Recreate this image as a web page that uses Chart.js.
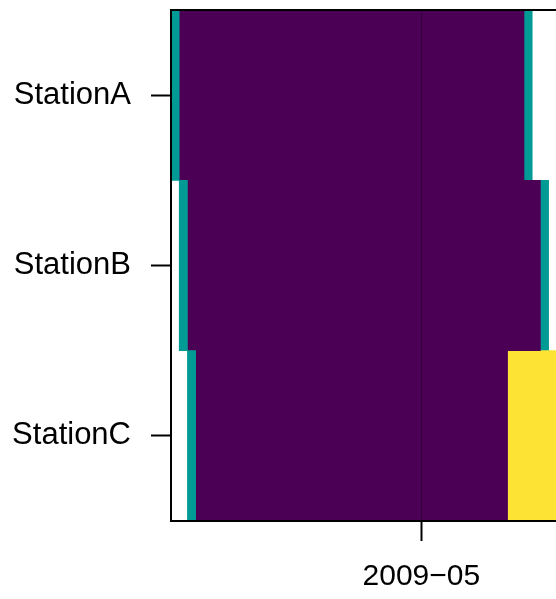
<!DOCTYPE html>
<html>
<head>
<meta charset="utf-8">
<script src="https://cdn.jsdelivr.net/npm/chart.js@4/dist/chart.umd.min.js"></script>
<style>
  html, body { margin: 0; padding: 0; background: #ffffff; overflow: hidden; }
  #wrap { width: 556px; height: 599px; }
</style>
</head>
<body>
<div id="wrap"><canvas id="c" width="556" height="599"></canvas></div>
<script>
// Stations shown as rows, one cell per day starting on the first day below.
const stations = ['StationA', 'StationB', 'StationC'];
const firstDay = '2009-04-01';

// Daily status level per station (null = no record that day).
const stationA = [
  2, 1, 1, 1, 1, 1, 1, 1, 1, 1,
  1, 1, 1, 1, 1, 1, 1, 1, 1, 1,
  1, 1, 1, 1, 1, 1, 1, 1, 1, 1,
  1, 1, 1, 1, 1, 1, 1, 1, 1, 1,
  1, 1, 1, 2, null, null, null
];
const stationB = [
  null, 2, 1, 1, 1, 1, 1, 1, 1, 1,
  1, 1, 1, 1, 1, 1, 1, 1, 1, 1,
  1, 1, 1, 1, 1, 1, 1, 1, 1, 1,
  1, 1, 1, 1, 1, 1, 1, 1, 1, 1,
  1, 1, 1, 1, 1, 2, null
];
const stationC = [
  null, null, 2, 1, 1, 1, 1, 1, 1, 1,
  1, 1, 1, 1, 1, 1, 1, 1, 1, 1,
  1, 1, 1, 1, 1, 1, 1, 1, 1, 1,
  1, 1, 1, 1, 1, 1, 1, 1, 1, 1,
  1, 3, 3, 3, 3, 3, 3
];

// Colour for each status level (viridis, 3 steps).
const levelColors = { 1: '#4B0055', 2: '#009B95', 3: '#FDE333' };

// Month tick on the time axis.
const tickDates = ['2009-05-01'];
const tickLabels = ['2009\u221205'];

const DAY = 86400000;
const t0 = Date.parse(firstDay + 'T00:00:00Z');
const dayIndex = d => Math.round((Date.parse(d + 'T00:00:00Z') - t0) / DAY);
const tickDays = tickDates.map(dayIndex);

// Merge consecutive days with the same level into runs.
function toRuns(values) {
  const runs = [];
  values.forEach((v, i) => {
    if (v === null) return;
    const last = runs[runs.length - 1];
    if (last && last.level === v && last.end === i - 1) last.end = i;
    else runs.push({ start: i, end: i, level: v });
  });
  return runs;
}

const rowsRuns = [stationA, stationB, stationC].map(toRuns);
const nRuns = Math.max(...rowsRuns.map(r => r.length));
const datasets = [];
for (let k = 0; k < nRuns; k++) {
  datasets.push({
    data: rowsRuns.map(r => r[k] ? [r[k].start - 0.5, r[k].end + 0.5] : null),
    backgroundColor: rowsRuns.map(r => r[k] ? levelColors[r[k].level] : 'rgba(0,0,0,0)'),
    borderWidth: 0,
    grouped: false,
    categoryPercentage: 1,
    barPercentage: 1
  });
}

// Box on the left, top and bottom of the plotting region.
const framePlugin = {
  id: 'frame',
  afterDraw(chart) {
    const { ctx, chartArea: a } = chart;
    ctx.save();
    ctx.strokeStyle = '#000';
    ctx.lineWidth = 2;
    ctx.beginPath();
    ctx.moveTo(a.right + 2, a.top);
    ctx.lineTo(a.left, a.top);
    ctx.lineTo(a.left, a.bottom);
    ctx.lineTo(a.right + 2, a.bottom);
    ctx.stroke();
    ctx.restore();
  }
};

const family = '"Liberation Sans", Arial, Helvetica, sans-serif';

const noPad = s => {
  s.paddingTop = 0; s.paddingBottom = 0; s.paddingLeft = 0; s.paddingRight = 0;
};

new Chart(document.getElementById('c'), {
  type: 'bar',
  data: { labels: stations, datasets },
  options: {
    indexAxis: 'y',
    responsive: false,
    devicePixelRatio: 1,
    animation: false,
    layout: { padding: { top: 10, right: 0, left: 0, bottom: 0 } },
    plugins: { legend: { display: false }, tooltip: { enabled: false } },
    scales: {
      x: {
        type: 'linear',
        min: -0.5,
        max: 46.4,
        afterBuildTicks: s => { s.ticks = tickDays.map(v => ({ value: v })); },
        afterFit: s => { s.height = 78; noPad(s); },
        ticks: {
          autoSkip: false,
          maxRotation: 0,
          padding: 18,
          color: '#000',
          font: { family, size: 30 },
          callback: v => tickLabels[tickDays.indexOf(v)] ?? ''
        },
        grid: {
          z: 1,
          drawOnChartArea: true,
          color: 'rgba(0,0,0,0.3)',
          lineWidth: 1,
          tickColor: '#000',
          tickWidth: 2,
          tickLength: 20
        },
        border: { display: false }
      },
      y: {
        type: 'category',
        offset: true,
        afterFit: s => { s.width = 171; noPad(s); },
        ticks: { padding: 20, color: '#000', font: { family, size: 31 } },
        grid: {
          offset: false,
          drawOnChartArea: false,
          tickColor: '#000',
          tickWidth: 2,
          tickLength: 20
        },
        border: { display: false }
      }
    }
  },
  plugins: [framePlugin]
});
</script>
</body>
</html>
